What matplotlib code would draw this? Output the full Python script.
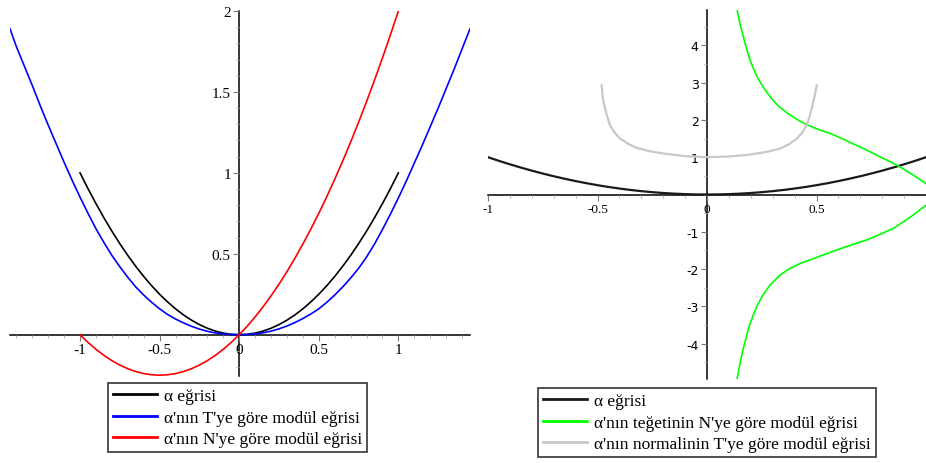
import numpy as np
import matplotlib.pyplot as plt
from matplotlib.ticker import FixedLocator, MultipleLocator

plt.rcParams['font.family'] = ['Liberation Serif', 'DejaVu Serif']

# sol grafik: alfa egrisi ve T, N'ye gore modul egrileri
x_alfa = [-1.0, -0.95, -0.9, -0.85, -0.8, -0.75, -0.7, -0.65, -0.6, -0.55, -0.5,
          -0.45, -0.4, -0.35, -0.3, -0.25, -0.2, -0.15, -0.1, -0.05, 0.0,
          0.05, 0.1, 0.15, 0.2, 0.25, 0.3, 0.35, 0.4, 0.45, 0.5,
          0.55, 0.6, 0.65, 0.7, 0.75, 0.8, 0.85, 0.9, 0.95, 1.0]
y_alfa = [1.0, 0.9025, 0.81, 0.7225, 0.64, 0.5625, 0.49, 0.4225, 0.36, 0.3025, 0.25,
          0.2025, 0.16, 0.1225, 0.09, 0.0625, 0.04, 0.0225, 0.01, 0.0025, 0.0,
          0.0025, 0.01, 0.0225, 0.04, 0.0625, 0.09, 0.1225, 0.16, 0.2025, 0.25,
          0.3025, 0.36, 0.4225, 0.49, 0.5625, 0.64, 0.7225, 0.81, 0.9025, 1.0]

x_T = [-1.44, -1.4, -1.35, -1.3, -1.25, -1.2, -1.15, -1.1, -1.05, -1.0,
       -0.95, -0.9, -0.85, -0.8, -0.75, -0.7, -0.65, -0.6, -0.55, -0.5,
       -0.45, -0.4, -0.35, -0.3, -0.25, -0.2, -0.15, -0.1, -0.05, 0.0,
       0.05, 0.1, 0.15, 0.2, 0.25, 0.3, 0.35, 0.4, 0.45, 0.5,
       0.55, 0.6, 0.65, 0.7, 0.75, 0.8, 0.85, 0.9, 0.95, 1.0,
       1.05, 1.1, 1.15, 1.2, 1.25, 1.3, 1.35, 1.4, 1.45]
y_T = [1.89, 1.78, 1.66, 1.54, 1.415, 1.295, 1.18, 1.065, 0.955, 0.85,
       0.75, 0.655, 0.57, 0.49, 0.42, 0.355, 0.295, 0.245, 0.20, 0.16,
       0.125, 0.097, 0.073, 0.052, 0.035, 0.021, 0.011, 0.005, 0.001, 0.0,
       0.001, 0.005, 0.012, 0.022, 0.036, 0.054, 0.075, 0.1, 0.128, 0.16,
       0.2, 0.245, 0.295, 0.35, 0.41, 0.48, 0.56, 0.65, 0.745, 0.845,
       0.95, 1.06, 1.17, 1.285, 1.4, 1.52, 1.64, 1.765, 1.89]

x_N = x_alfa
y_N = [0.0, -0.0475, -0.09, -0.1275, -0.16, -0.1875, -0.21, -0.2275, -0.24, -0.2475, -0.25,
       -0.2475, -0.24, -0.2275, -0.21, -0.1875, -0.16, -0.1275, -0.09, -0.0475, 0.0,
       0.0525, 0.11, 0.1725, 0.24, 0.3125, 0.39, 0.4725, 0.56, 0.6525, 0.75,
       0.8525, 0.96, 1.0725, 1.19, 1.3125, 1.44, 1.5725, 1.71, 1.8525, 2.0]

# sag grafik
x_alfa2 = x_alfa
y_alfa2 = y_alfa

x_teg_ust = [0.138, 0.148, 0.16, 0.174, 0.19, 0.21, 0.233, 0.26, 0.295, 0.33, 0.37,
             0.415, 0.46, 0.51, 0.562, 0.62, 0.683, 0.74, 0.79, 0.84, 0.881, 0.942, 1.0]
y_teg_ust = [4.94, 4.65, 4.36, 4.05, 3.73, 3.40, 3.11, 2.85, 2.57, 2.35, 2.17,
             2.0, 1.86, 1.74, 1.64, 1.49, 1.32, 1.16, 1.01, 0.87, 0.74, 0.52, 0.29]
x_teg_alt = [1.0, 0.97, 0.942, 0.9, 0.851, 0.79, 0.729, 0.66, 0.592, 0.54, 0.486,
             0.43, 0.379, 0.33, 0.288, 0.255, 0.23, 0.21, 0.19, 0.176, 0.162, 0.15, 0.138]
y_teg_alt = [-0.29, -0.42, -0.55, -0.72, -0.91, -1.07, -1.22, -1.35, -1.49, -1.60, -1.72,
             -1.84, -1.98, -2.18, -2.43, -2.70, -2.97, -3.25, -3.59, -3.90, -4.22, -4.55, -4.93]

x_norm = [-0.481, -0.476, -0.466, -0.455, -0.443, -0.42, -0.397, -0.36, -0.321, -0.26,
          -0.2, -0.1, 0.0, 0.1, 0.181, 0.27, 0.333, 0.375, 0.41, 0.435, 0.455,
          0.468, 0.478, 0.49, 0.501]
y_norm = [2.93, 2.6, 2.31, 2.08, 1.86, 1.65, 1.50, 1.36, 1.25, 1.16,
          1.10, 1.03, 1.0, 1.02, 1.06, 1.14, 1.23, 1.35, 1.50, 1.66, 1.86,
          2.08, 2.31, 2.6, 2.93]

fig = plt.figure(figsize=(9.26, 4.64), dpi=100)
axL = fig.add_axes([10/926, 1-377/464, 460/926, 365/464])
axR = fig.add_axes([488/926, 1-380/464, 438/926, 369/464])


def eksen_ayarla(ax):
    for s in ['top', 'right']:
        ax.spines[s].set_visible(False)
    for s in ['left', 'bottom']:
        ax.spines[s].set_position('zero')
        ax.spines[s].set_linewidth(1.1)
        ax.spines[s].set_zorder(1)
    ax.set_facecolor('none')
    ax.tick_params(which='major', length=4, width=0.8, color='#777777', direction='out', pad=2)
    ax.tick_params(which='minor', length=2, width=0.6, color='#aaaaaa', direction='out')


lw = 1.2
l1, = axL.plot(x_alfa, y_alfa, color='black', lw=lw, label='α eğrisi')
l2, = axL.plot(x_T, y_T, color='#0000ff', lw=lw, label="α'nın T'ye göre modül eğrisi")
l3, = axL.plot(x_N, y_N, color='#ff0000', lw=lw, label="α'nın N'ye göre modül eğrisi")
axL.set_xlim(-1.44, 1.45)
axL.set_ylim(-0.255, 2.0)
eksen_ayarla(axL)
axL.xaxis.set_major_locator(FixedLocator([-1, -0.5, 0, 0.5, 1]))
axL.set_xticklabels(['-1', '-0.5', '0', '0.5', '1'], fontsize=11)
axL.xaxis.set_minor_locator(MultipleLocator(0.1))
axL.yaxis.set_major_locator(FixedLocator([0.5, 1, 1.5, 2]))
axL.set_yticklabels(['0.5', '1', '1.5', '2'], fontsize=11)
axL.yaxis.set_minor_locator(MultipleLocator(0.1))

r1, = axR.plot(x_alfa2, y_alfa2, color='#1a1a1a', lw=1.6, label='α eğrisi')
r2, = axR.plot(x_teg_ust, y_teg_ust, color='#00ff00', lw=lw,
               label="α'nın teğetinin N'ye göre modül eğrisi")
axR.plot(x_teg_alt, y_teg_alt, color='#00ff00', lw=lw)
r3, = axR.plot(x_norm, y_norm, color='#c8c8c8', lw=1.6,
               label="α'nın normalinin T'ye göre modül eğrisi")
axR.set_xlim(-1, 1)
axR.set_ylim(-4.95, 4.95)
eksen_ayarla(axR)
axR.xaxis.set_major_locator(FixedLocator([-1, -0.5, 0, 0.5]))
axR.set_xticklabels(['-1', '-0.5', '0', '0.5'], fontsize=9.5)
axR.xaxis.set_minor_locator(MultipleLocator(0.1))
axR.yaxis.set_major_locator(FixedLocator([-4, -3, -2, -1, 1, 2, 3, 4]))
axR.set_yticklabels(['-4', '-3', '-2', '-1', '1', '2', '3', '4'], fontsize=9,
                    family='DejaVu Sans')
axR.yaxis.set_minor_locator(MultipleLocator(0.5))

leg_kw = dict(loc='upper left', fontsize=12.5, frameon=True, fancybox=False,
              framealpha=1, edgecolor='#333333', handlelength=2.5,
              handletextpad=0.4, borderpad=0.3, labelspacing=0.3, borderaxespad=0)
legL = fig.legend(handles=[l1, l2, l3], bbox_to_anchor=(108/926, 1-384/464), **leg_kw)
legR = fig.legend(handles=[r1, r2, r3], bbox_to_anchor=(538/926, 1-389/464), **leg_kw)
for leg in (legL, legR):
    leg.get_frame().set_linewidth(1.2)
    for h in leg.legend_handles:
        h.set_linewidth(2)

fig.savefig('out.png', dpi=100)
